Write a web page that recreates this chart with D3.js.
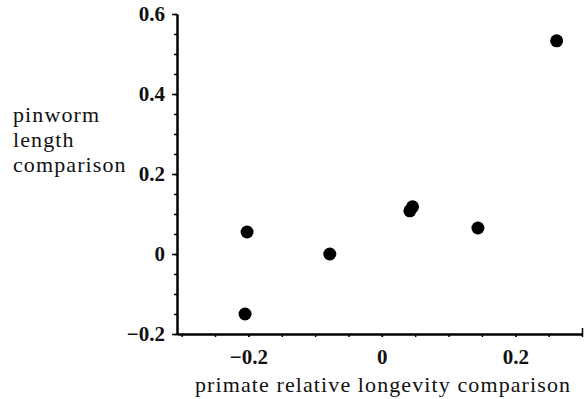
<!DOCTYPE html>
<html>
<head>
  <meta charset="utf-8">
  <title>pinworm length vs primate longevity</title>
  <style>
    html, body { margin:0; padding:0; background:white; }
    svg { display:block; }
  </style>
  <script src="https://d3js.org/d3.v7.min.js"></script>
</head>
<body>
<svg id="canvas" width="587" height="399"></svg>
<script>
  // data
  var longevity = [-0.202, -0.205, -0.078, 0.042, 0.046, 0.144, 0.262];
  var wormLength = [0.055, -0.15, 0.0, 0.108, 0.118, 0.065, 0.533];
  var xLabels = [-0.2, 0, 0.2];
  var yLabels = [-0.2, 0, 0.2, 0.4, 0.6];

  var width = 587, height = 399;
  var svg = d3.select("#canvas");
  svg.append("rect").attr("width", width).attr("height", height).attr("fill", "white");

  var x = d3.scaleLinear().domain([-0.307, 0.3]).range([177, 582]);
  var y = d3.scaleLinear().domain([-0.2, 0.6]).range([334, 14]);

  var fmt = d3.format("~g");
  var bookFont = "'Liberation Serif', 'Times New Roman', 'DejaVu Serif'";

  // minor ticks every 0.05
  var yMinor = svg.append("g").attr("transform", "translate(" + x.range()[0] + ",0)")
    .call(d3.axisLeft(y).tickValues(d3.range(-0.2, 0.6001, 0.05)).tickSize(3).tickSizeOuter(0).tickFormat(""));
  var yMajor = svg.append("g").attr("transform", "translate(" + x.range()[0] + ",0)")
    .call(d3.axisLeft(y).tickValues(yLabels).tickSize(5).tickSizeOuter(0).tickPadding(7).tickFormat(fmt));

  var xMinor = svg.append("g").attr("transform", "translate(0," + y.range()[0] + ")")
    .call(d3.axisBottom(x).tickValues(d3.range(-0.3, 0.3001, 0.05)).tickSize(3).tickSizeOuter(0).tickFormat(""));
  var xMajor = svg.append("g").attr("transform", "translate(0," + y.range()[0] + ")")
    .call(d3.axisBottom(x).tickValues(xLabels).tickSize(3).tickSizeOuter(0).tickPadding(12).tickFormat(fmt));
  // little upturned end mark on the x axis
  var xEnd = svg.append("g").attr("transform", "translate(0," + y.range()[0] + ")")
    .call(d3.axisTop(x).tickValues([0.3]).tickSize(6).tickFormat(""));
  xEnd.select(".domain").remove();

  [yMinor, yMajor, xMinor, xMajor, xEnd].forEach(function(g) {
    g.attr("font-family", null).attr("font-size", null);
    g.selectAll("line").attr("stroke", "#000").attr("stroke-width", 1.5);
    g.select(".domain").attr("stroke", "#000").attr("stroke-width", 2);
    g.selectAll("text")
      .style("font-family", bookFont)
      .attr("font-size", 21)
      .attr("font-weight", "bold")
      .attr("fill", "#111");
  });

  // points
  svg.append("g").selectAll("circle")
    .data(longevity)
    .enter().append("circle")
    .attr("cx", function(d) { return x(d); })
    .attr("cy", function(d, i) { return y(wormLength[i]); })
    .attr("r", 6.5)
    .attr("fill", "#000");

  // axis titles
  svg.append("text")
    .attr("x", 195).attr("y", 392)
    .style("font-family", bookFont).attr("font-size", 22).attr("letter-spacing", 1.1)
    .attr("fill", "#111")
    .text("primate relative longevity comparison");

  var yTitle = svg.append("text")
    .style("font-family", bookFont).attr("font-size", 22).attr("letter-spacing", 1.1)
    .attr("fill", "#111");
  ["pinworm", "length", "comparison"].forEach(function(s, i) {
    yTitle.append("tspan").attr("x", 13).attr("y", 122 + i * 25).text(s);
  });
</script>
</body>
</html>
